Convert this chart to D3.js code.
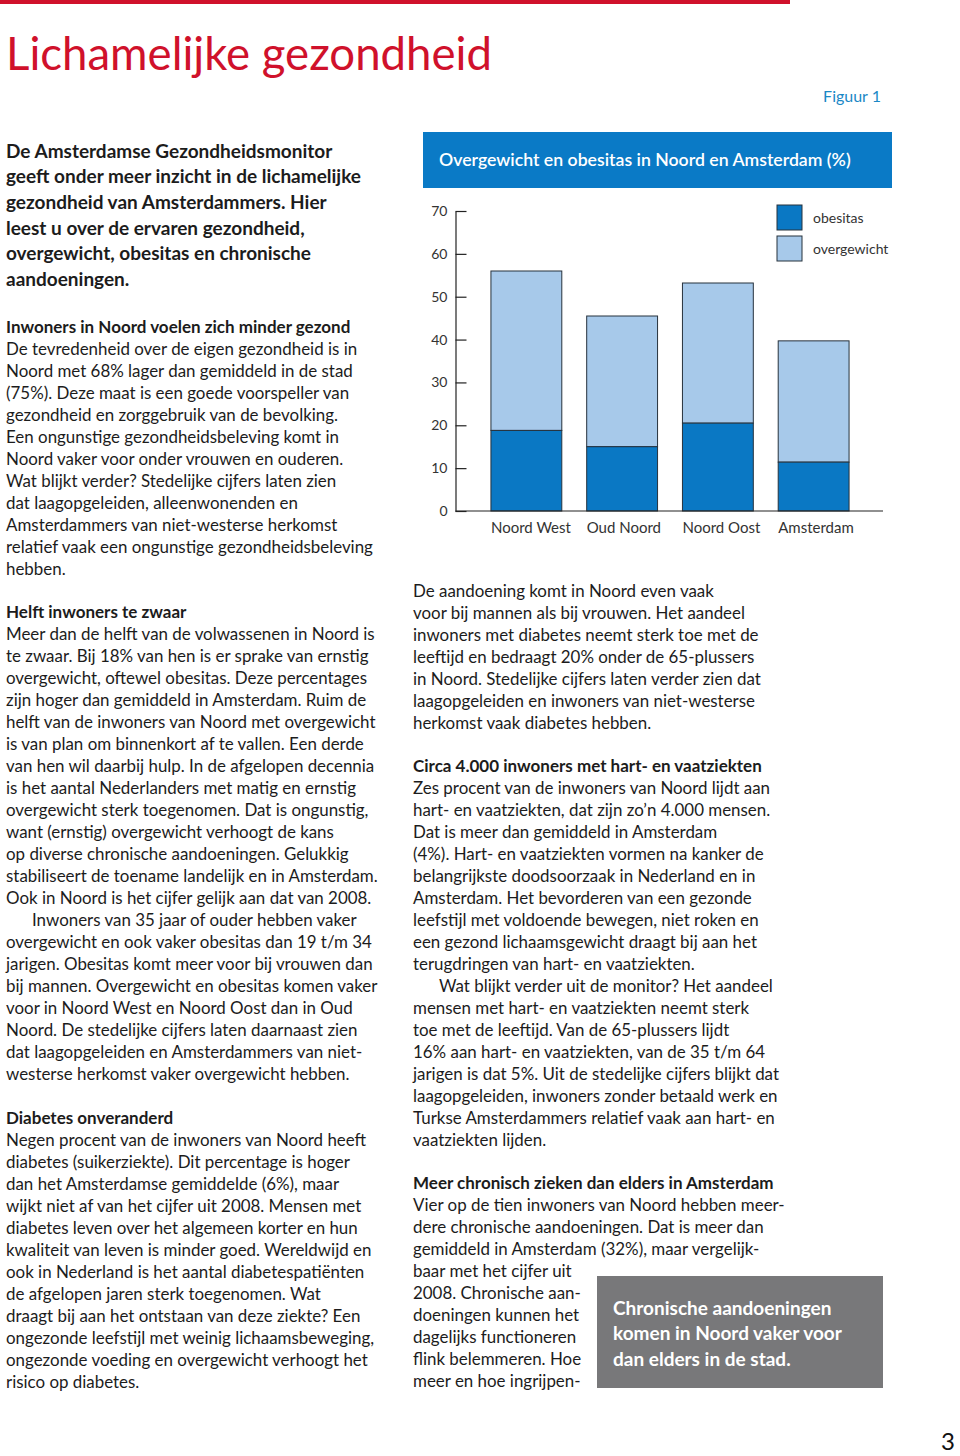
<!DOCTYPE html>
<html>
<head>
<meta charset="utf-8">
<script src="https://cdn.jsdelivr.net/npm/d3@7"></script>
<style>
  html, body { margin: 0; padding: 0; background: #fff; }
  svg { display: block; }
</style>
</head>
<body>
<div id="page"></div>
<script>
// ---------------- DATA ----------------
const categories = ["Noord West", "Oud Noord", "Noord Oost", "Amsterdam"];
const obesitas = [18.8, 15.0, 20.5, 11.4];          // % obesitas (dark)
const overgewicht = [56.0, 45.5, 53.2, 39.7];       // % overgewicht incl. obesitas (total bar)
const yTicks = [0, 10, 20, 30, 40, 50, 60, 70];
const seriesNames = ["obesitas", "overgewicht"];
const chartTitle = "Overgewicht en obesitas in Noord en Amsterdam (%)";
const pageTitle = "Lichamelijke gezondheid";
const figureLabel = "Figuur 1";
const pageNumber = "3";

const introLines = [
  "De Amsterdamse Gezondheidsmonitor",
  "geeft onder meer inzicht in de lichamelijke",
  "gezondheid van Amsterdammers. Hier",
  "leest u over de ervaren gezondheid,",
  "overgewicht, obesitas en chronische",
  "aandoeningen."
];
const sec1Head = "Inwoners in Noord voelen zich minder gezond";
const sec1Lines = [
  "De tevredenheid over de eigen gezondheid is in",
  "Noord met 68% lager dan gemiddeld in de stad",
  "(75%). Deze maat is een goede voorspeller van",
  "gezondheid en zorggebruik van de bevolking.",
  "Een ongunstige gezondheidsbeleving komt in",
  "Noord vaker voor onder vrouwen en ouderen.",
  "Wat blijkt verder? Stedelijke cijfers laten zien",
  "dat laagopgeleiden, alleenwonenden en",
  "Amsterdammers van niet-westerse herkomst",
  "relatief vaak een ongunstige gezondheidsbeleving",
  "hebben."
];
const sec2Head = "Helft inwoners te zwaar";
const sec2Lines = [
  "Meer dan de helft van de volwassenen in Noord is",
  "te zwaar. Bij 18% van hen is er sprake van ernstig",
  "overgewicht, oftewel obesitas. Deze percentages",
  "zijn hoger dan gemiddeld in Amsterdam. Ruim de",
  "helft van de inwoners van Noord met overgewicht",
  "is van plan om binnenkort af te vallen. Een derde",
  "van hen wil daarbij hulp. In de afgelopen decennia",
  "is het aantal Nederlanders met matig en ernstig",
  "overgewicht sterk toegenomen. Dat is ongunstig,",
  "want (ernstig) overgewicht verhoogt de kans",
  "op diverse chronische aandoeningen. Gelukkig",
  "stabiliseert de toename landelijk en in Amsterdam.",
  "Ook in Noord is het cijfer gelijk aan dat van 2008.",
  "\tInwoners van 35 jaar of ouder hebben vaker",
  "overgewicht en ook vaker obesitas dan 19 t/m 34",
  "jarigen. Obesitas komt meer voor bij vrouwen dan",
  "bij mannen. Overgewicht en obesitas komen vaker",
  "voor in Noord West en Noord Oost dan in Oud",
  "Noord. De stedelijke cijfers laten daarnaast zien",
  "dat laagopgeleiden en Amsterdammers van niet-",
  "westerse herkomst vaker overgewicht hebben."
];
const sec3Head = "Diabetes onveranderd";
const sec3Lines = [
  "Negen procent van de inwoners van Noord heeft",
  "diabetes (suikerziekte). Dit percentage is hoger",
  "dan het Amsterdamse gemiddelde (6%), maar",
  "wijkt niet af van het cijfer uit 2008. Mensen met",
  "diabetes leven over het algemeen korter en hun",
  "kwaliteit van leven is minder goed. Wereldwijd en",
  "ook in Nederland is het aantal diabetespatiënten",
  "de afgelopen jaren sterk toegenomen. Wat",
  "draagt bij aan het ontstaan van deze ziekte? Een",
  "ongezonde leefstijl met weinig lichaamsbeweging,",
  "ongezonde voeding en overgewicht verhoogt het",
  "risico op diabetes."
];
const rightParaLines = [
  "De aandoening komt in Noord even vaak",
  "voor bij mannen als bij vrouwen. Het aandeel",
  "inwoners met diabetes neemt sterk toe met de",
  "leeftijd en bedraagt 20% onder de 65-plussers",
  "in Noord. Stedelijke cijfers laten verder zien dat",
  "laagopgeleiden en inwoners van niet-westerse",
  "herkomst vaak diabetes hebben."
];
const sec4Head = "Circa 4.000 inwoners met hart- en vaatziekten";
const sec4Lines = [
  "Zes procent van de inwoners van Noord lijdt aan",
  "hart- en vaatziekten, dat zijn zo’n 4.000 mensen.",
  "Dat is meer dan gemiddeld in Amsterdam",
  "(4%). Hart- en vaatziekten vormen na kanker de",
  "belangrijkste doodsoorzaak in Nederland en in",
  "Amsterdam. Het bevorderen van een gezonde",
  "leefstijl met voldoende bewegen, niet roken en",
  "een gezond lichaamsgewicht draagt bij aan het",
  "terugdringen van hart- en vaatziekten.",
  "\tWat blijkt verder uit de monitor? Het aandeel",
  "mensen met hart- en vaatziekten neemt sterk",
  "toe met de leeftijd. Van de 65-plussers lijdt",
  "16% aan hart- en vaatziekten, van de 35 t/m 64",
  "jarigen is dat 5%. Uit de stedelijke cijfers blijkt dat",
  "laagopgeleiden, inwoners zonder betaald werk en",
  "Turkse Amsterdammers relatief vaak aan hart- en",
  "vaatziekten lijden."
];
const sec5Head = "Meer chronisch zieken dan elders in Amsterdam";
const sec5Lines = [
  "Vier op de tien inwoners van Noord hebben meer-",
  "dere chronische aandoeningen. Dat is meer dan",
  "gemiddeld in Amsterdam (32%), maar vergelijk-",
  "baar met het cijfer uit",
  "2008. Chronische aan-",
  "doeningen kunnen het",
  "dagelijks functioneren",
  "flink belemmeren. Hoe",
  "meer en hoe ingrijpen-"
];
const quoteLines = [
  "Chronische aandoeningen",
  "komen in Noord vaker voor",
  "dan elders in de stad."
];

// ---------------- STYLE ----------------
const FONT = "Lato, 'Open Sans', sans-serif";
const TEXT = "#1c1c1c";
const RED = "#d0112b";
const BLUE_DARK = "#0a78c4";
const BLUE_LIGHT = "#a7c9ea";
const BANNER = "#0a7ac6";
const STROKE = "#27323d";

const W = 960, H = 1456;
const svg = d3.select("#page").append("svg")
  .attr("width", W).attr("height", H)
  .attr("viewBox", `0 0 ${W} ${H}`);
svg.append("rect").attr("width", W).attr("height", H).attr("fill", "#fff");

// helper: fit font-size so that a reference string has a target width
function fitSize(str, weight, target) {
  const t = svg.append("text").attr("font-family", FONT).attr("font-weight", weight)
    .attr("font-size", 100).text(str);
  const w = t.node().getComputedTextLength();
  t.remove();
  return 100 * target / w;
}
const bodySize = Math.min(17, fitSize(sec2Lines[0], 400, 369));
const headSize = Math.min(17, fitSize(sec1Head, 700, 355));
const introSize = Math.min(19, fitSize(introLines[1], 700, 365));

function block(x, yCenter, lines, opts) {
  const g = svg.append("g");
  g.selectAll("text").data(lines).join("text")
    .attr("x", d => x + (d.startsWith("\t") ? 26 : 0))
    .attr("y", (d, i) => yCenter + i * opts.step)
    .attr("dy", "0.36em")
    .attr("font-family", FONT)
    .attr("font-size", opts.size)
    .attr("font-weight", opts.weight)
    .attr("fill", opts.fill || TEXT)
    .text(d => d.replace("\t", ""));
}
function section(x, yCenter, head, lines) {
  block(x, yCenter, [head], {size: headSize, weight: 700, step: 22});
  block(x, yCenter + 22, lines, {size: bodySize, weight: 400, step: 22});
}

// ---------------- HEADER ----------------
svg.append("rect").attr("x", 0).attr("y", 0).attr("width", 790).attr("height", 4).attr("fill", RED);
svg.append("text").attr("x", 6).attr("y", 70)
  .attr("font-family", FONT).attr("font-weight", 400)
  .attr("font-size", fitSize(pageTitle, 400, 486))
  .attr("fill", RED).text(pageTitle);
svg.append("text").attr("x", 881).attr("y", 96).attr("dy", "0.36em")
  .attr("text-anchor", "end")
  .attr("font-family", FONT).attr("font-size", 16).attr("fill", "#1b88c6")
  .text(figureLabel);

// ---------------- LEFT COLUMN ----------------
block(6, 151, introLines, {size: introSize, weight: 700, step: 25.6});
section(6, 327, sec1Head, sec1Lines);
section(6, 612, sec2Head, sec2Lines);
section(6, 1118, sec3Head, sec3Lines);

// ---------------- RIGHT COLUMN TEXT ----------------
block(413, 591, rightParaLines, {size: bodySize, weight: 400, step: 22});
section(413, 766, sec4Head, sec4Lines);
section(413, 1183, sec5Head, sec5Lines);

// quote box
svg.append("rect").attr("x", 597).attr("y", 1276).attr("width", 286).attr("height", 112)
  .attr("fill", "#78787a");
block(613, 1308, quoteLines, {size: Math.min(19, fitSize(quoteLines[1], 700, 235)), weight: 700, step: 25.6, fill: "#fff"});

// page number
svg.append("text").attr("x", 955).attr("y", 1450).attr("text-anchor", "end")
  .attr("font-family", FONT).attr("font-size", 24).attr("fill", "#111").text(pageNumber);

// ---------------- CHART ----------------
const chartLeft = 423, chartRight = 892;
svg.append("rect").attr("x", chartLeft).attr("y", 132).attr("width", chartRight - chartLeft).attr("height", 56)
  .attr("fill", BANNER);
svg.append("text").attr("x", 439).attr("y", 160).attr("dy", "0.36em")
  .attr("font-family", FONT).attr("font-weight", 600)
  .attr("font-size", fitSize(chartTitle, 600, 412))
  .attr("fill", "#fff").text(chartTitle);

const axisX = 455.5;
const x = d3.scaleBand().domain(categories).range([467, 873]).paddingInner(0.26).paddingOuter(0.25);
const y = d3.scaleLinear().domain([0, 70]).range([511, 211]);

// y axis
const yAxis = d3.axisLeft(y).tickValues(yTicks).tickSizeInner(-11).tickSizeOuter(0).tickPadding(8);
const gy = svg.append("g").attr("transform", `translate(${axisX},0)`).call(yAxis);
gy.select(".domain").attr("stroke", "#222").attr("stroke-width", 1.2);
gy.selectAll(".tick line").attr("stroke", "#222").attr("stroke-width", 1.2);
gy.selectAll(".tick text").attr("font-family", FONT).attr("font-size", 14).attr("fill", "#333");

// bars: overgewicht (light, above obesitas) and obesitas (dark)
const barData = categories.map((c, i) => ({c, ob: obesitas[i], ov: overgewicht[i]}));
svg.append("g").selectAll("rect").data(barData).join("rect")
  .attr("x", d => x(d.c)).attr("width", x.bandwidth())
  .attr("y", d => y(d.ov)).attr("height", d => y(d.ob) - y(d.ov))
  .attr("fill", BLUE_LIGHT).attr("stroke", STROKE).attr("stroke-width", 1);
svg.append("g").selectAll("rect").data(barData).join("rect")
  .attr("x", d => x(d.c)).attr("width", x.bandwidth())
  .attr("y", d => y(d.ob)).attr("height", d => y(0) - y(d.ob))
  .attr("fill", BLUE_DARK).attr("stroke", STROKE).attr("stroke-width", 1);

// x axis (labels aligned to the left edge of each bar)
const xAxis = d3.axisBottom(x).tickSize(0).tickPadding(11);
const gx = svg.append("g").attr("transform", `translate(0,${y(0)})`).call(xAxis);
gx.select(".domain").remove();
gx.selectAll(".tick text")
  .attr("x", -x.bandwidth() / 2).attr("text-anchor", "start")
  .attr("font-family", FONT).attr("font-size", 15).attr("fill", "#333");
svg.append("line").attr("x1", axisX).attr("x2", 883).attr("y1", y(0)).attr("y2", y(0))
  .attr("stroke", "#222").attr("stroke-width", 1.2);

// legend
const legColors = [BLUE_DARK, BLUE_LIGHT];
const leg = svg.append("g").selectAll("g").data(seriesNames).join("g")
  .attr("transform", (d, i) => `translate(777,${205 + i * 31})`);
leg.append("rect").attr("width", 25).attr("height", 25)
  .attr("fill", (d, i) => legColors[i]).attr("stroke", STROKE).attr("stroke-width", 1);
leg.append("text").attr("x", 36).attr("y", 13).attr("dy", "0.36em")
  .attr("font-family", FONT).attr("font-size", 14).attr("fill", "#333").text(d => d);
</script>
</body>
</html>
